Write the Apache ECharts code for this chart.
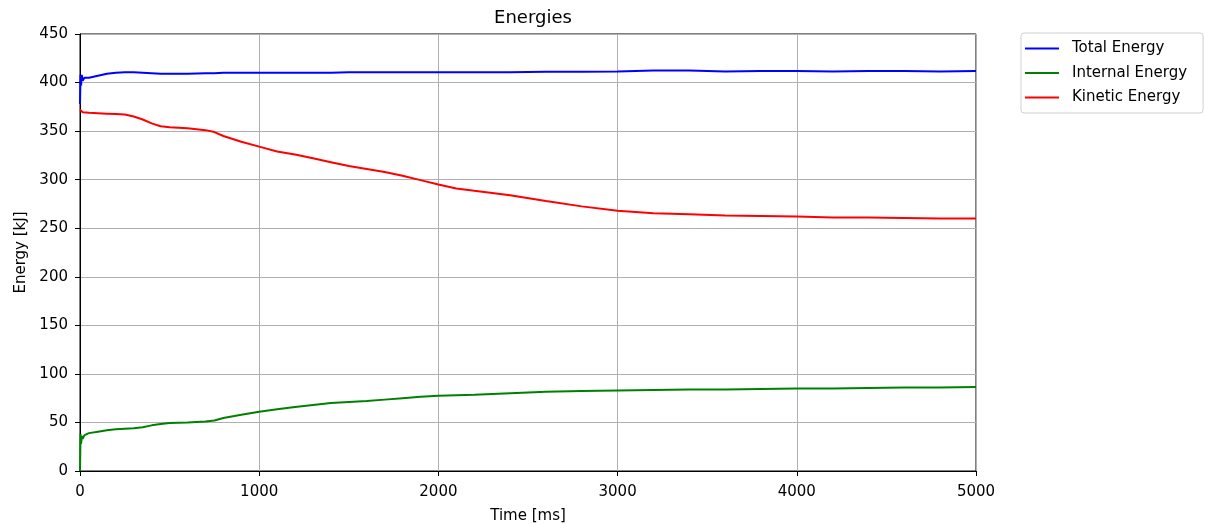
<!DOCTYPE html>
<html>
<head>
<meta charset="utf-8">
<script src="https://cdn.jsdelivr.net/npm/echarts@6/dist/echarts.min.js"></script>
<style>
  html, body { margin: 0; padding: 0; background: #fff; }
  #chart { width: 1205px; height: 524px; }
</style>
</head>
<body>
<div id="chart"></div>
<script>
// Simulation time samples [ms]
const time = [0, 3, 6, 10, 15, 25, 50, 100, 150, 200, 250, 300, 350, 400, 450, 500, 600, 700, 750, 800, 900,
  1000, 1100, 1200, 1300, 1400, 1500, 1600, 1700, 1800, 1900, 2000, 2100, 2200, 2400, 2600, 2800,
  3000, 3200, 3400, 3600, 3800, 4000, 4200, 4400, 4600, 4800, 5000];

// Energies [kJ]
const totalEnergy = [378, 408, 397, 408, 402, 405, 405, 407, 409, 410, 410.5, 410.5, 410, 409.5, 409, 409, 409, 409.5, 409.5, 410, 410,
  410, 410, 410, 410, 410, 410.5, 410.5, 410.5, 410.5, 410.5, 410.5, 410.5, 410.5, 410.5, 411, 411,
  411.5, 412.5, 412.5, 411.5, 412, 412, 411.5, 412, 412, 411.5, 412];
const internalEnergy = [0, 38, 28, 36, 33, 37, 39, 40.5, 42, 43, 43.5, 44, 45, 47, 48.5, 49.5, 50, 51, 52, 54.5, 58,
  61, 63.5, 66, 68, 70, 71, 72, 73.5, 75, 76.5, 77.5, 78, 78.5, 80, 81.5, 82.5,
  83, 83.5, 84, 84, 84.5, 85, 85, 85.5, 86, 86, 86.5];
const kineticEnergy = [372, 370, 371, 370, 369.5, 369, 369, 368.5, 368, 367.5, 367, 365, 362, 358, 355, 354, 353, 351, 349, 345, 339,
  334, 329, 326, 322, 318, 314, 311, 308, 304, 299.5, 295, 291, 288.5, 284, 278, 272.5,
  268, 265.5, 264.5, 263, 262.5, 262, 261, 261, 260.5, 260, 260];

const seriesNames = ['Total Energy', 'Internal Energy', 'Kinetic Energy'];
const seriesColors = ['#0000ff', '#008000', '#ff0000'];
const seriesValues = [totalEnergy, internalEnergy, kineticEnergy];

const FONT = 'DejaVu Sans';

const chart = echarts.init(document.getElementById('chart'), null, { renderer: 'canvas' });

chart.setOption({
  animation: false,
  backgroundColor: '#ffffff',
  textStyle: { fontFamily: FONT },
  title: {
    text: 'Energies',
    left: 528,
    textAlign: 'center',
    top: 4,
    textStyle: { fontFamily: FONT, fontSize: 18, fontWeight: 'normal', color: '#000' }
  },
  grid: {
    left: 80, right: 229, top: 34, bottom: 53,
    outerBoundsMode: 'none',
    containLabel: false,
    show: true, borderColor: '#000', borderWidth: 1, backgroundColor: 'transparent'
  },
  legend: {
    orient: 'vertical',
    left: 1021, top: 33,
    padding: [8, 16, 8, 4],
    itemGap: 9.5,
    itemWidth: 34, itemHeight: 2,
    icon: 'rect',
    borderColor: '#d0d0d0', borderWidth: 1, borderRadius: 3,
    textStyle: { fontFamily: FONT, fontSize: 15, color: '#000', padding: [0, 0, 0, 8] },
    data: seriesNames
  },
  xAxis: {
    type: 'value',
    min: 0, max: 5000, interval: 1000,
    name: 'Time [ms]', nameLocation: 'middle', nameGap: 38,
    nameTextStyle: { fontFamily: FONT, fontSize: 15, color: '#000' },
    axisLine: { show: true, onZero: false, lineStyle: { color: '#000', width: 1 } },
    axisTick: { show: true, inside: false, length: 5, lineStyle: { color: '#000' } },
    axisLabel: { fontFamily: FONT, fontSize: 15, color: '#000', margin: 14, formatter: (v) => String(v) },
    splitLine: { show: true, lineStyle: { color: '#b0b0b0', width: 1 } }
  },
  yAxis: {
    type: 'value',
    min: 0, max: 450, interval: 50,
    name: 'Energy [kJ]', nameLocation: 'middle', nameGap: 51, nameRotate: 90,
    nameTextStyle: { fontFamily: FONT, fontSize: 15, color: '#000' },
    axisLine: { show: true, onZero: false, lineStyle: { color: '#000', width: 1 } },
    axisTick: { show: true, inside: false, length: 5, lineStyle: { color: '#000' } },
    axisLabel: { fontFamily: FONT, fontSize: 15, color: '#000', margin: 12, formatter: (v) => String(v) },
    splitLine: { show: true, lineStyle: { color: '#b0b0b0', width: 1 } }
  },
  series: seriesNames.map((name, i) => ({
    name: name,
    type: 'line',
    data: time.map((t, k) => [t, seriesValues[i][k]]),
    showSymbol: false,
    symbol: 'none',
    smooth: false,
    lineStyle: { color: seriesColors[i], width: 2 },
    itemStyle: { color: seriesColors[i] },
    z: 3
  }))
});
</script>
</body>
</html>
